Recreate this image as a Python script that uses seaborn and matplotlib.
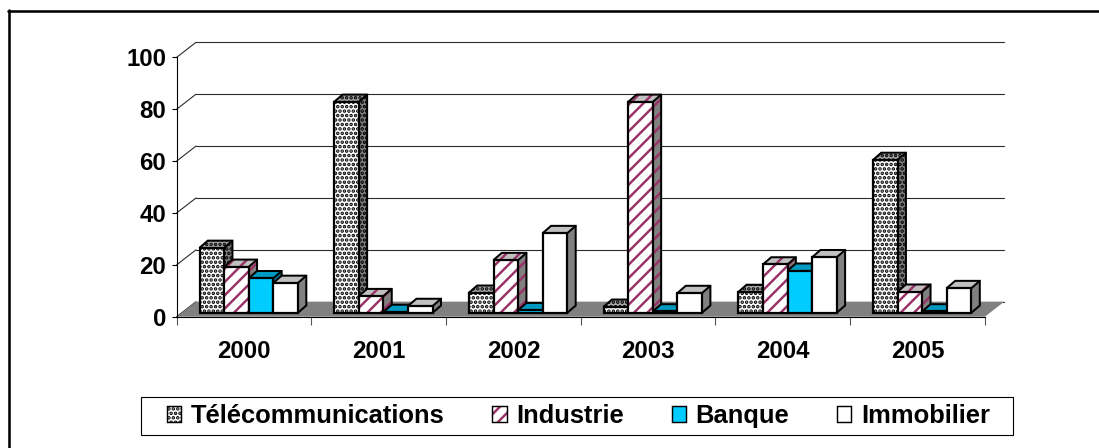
import matplotlib
matplotlib.use("Agg")
import matplotlib.pyplot as plt
from matplotlib.colors import to_rgba
from matplotlib.lines import Line2D
from matplotlib.patches import Polygon, Rectangle
import pandas as pd
import seaborn as sns

years = ["2000", "2001", "2002", "2003", "2004", "2005"]
sectors = ["Télécommunications", "Industrie", "Banque", "Immobilier"]
telecom = [25, 81.3, 7.7, 2.3, 8, 58.9]
industrie = [17.7, 6.4, 20.3, 81.3, 18.6, 8.1]
banque = [13.3, 0.3, 1, 0.5, 16.2, 0.5]
immobilier = [11.5, 2.6, 30.7, 7.6, 21.4, 9.5]
yticks = [0, 20, 40, 60, 80, 100]

# pixel sizes of the picture
W, H = 1099, 448
DPI = 80
LEFT, RIGHT, BOTTOM, TOP = 176.7, 984.9, 316.7, 57.3
PX_X = 6 / (RIGHT - LEFT)
PX_Y = 100 / (BOTTOM - TOP)

sns.set_theme(style="white")
plt.rcParams["font.family"] = ["Liberation Sans", "DejaVu Sans"]
plt.rcParams["font.weight"] = "bold"
plt.rcParams["hatch.linewidth"] = 2.2

fronts = ["white", "white", "#00ccff", "white"]
hatches = ["...", "//", None, None]
hatch_cols = ["black", "#993366", "#00ccff", "white"]
tops = ["#a6a6a6", "#c0c0c0", "#0099bf", "#c0c0c0"]
sides = ["#808080", "#808080", "#007a99", "#808080"]

rows = []
for name, values in zip(sectors, [telecom, industrie, banque, immobilier]):
    for year, value in zip(years, values):
        rows.append({"annee": year, "secteur": name, "part": value})
df = pd.DataFrame(rows)

fig = plt.figure(figsize=(W / DPI, H / DPI), dpi=DPI, facecolor="white")
ax = fig.add_axes([LEFT / W, 1 - BOTTOM / H, (RIGHT - LEFT) / W, (BOTTOM - TOP) / H])

sns.barplot(data=df, x="annee", y="part", hue="secteur", palette=fronts, saturation=1,
            width=98.5 / 134.7, gap=0, legend=False, ax=ax)
ax.set_xlim(-0.5, 5.5)
ax.set_ylim(0, 100)
ax.set_xlabel("")
ax.set_ylabel("")

# back wall, left wall and floor
wall_dx, wall_dy = 19.3 * PX_X, 15 * PX_Y
for tick in yticks:
    ax.plot([-0.5 + wall_dx, 5.5 + wall_dx], [tick + wall_dy, tick + wall_dy], color="#2b2b2b",
            lw=1, clip_on=False, zorder=0.5)
    ax.plot([-0.5, -0.5 + wall_dx], [tick, tick + wall_dy], color="#2b2b2b",
            lw=1, clip_on=False, zorder=0.5)
ax.add_patch(Polygon([(-0.5, 0), (5.5, 0), (5.5 + wall_dx, wall_dy), (-0.5 + wall_dx, wall_dy)],
                     facecolor="#808080", edgecolor="none", clip_on=False, zorder=1))

# move the bars on to the floor and give them a top and a side
shift_x, shift_y = 4.7 * PX_X, 4 * PX_Y
depth_x, depth_y = 8.3 * PX_X, 7.2 * PX_Y
for h, container in enumerate(ax.containers):
    for c, bar in enumerate(container):
        x0 = bar.get_x() + shift_x
        w = bar.get_width()
        y0 = shift_y
        y1 = shift_y + bar.get_height()
        z = 3 + c + h * 0.1
        bar.set_x(x0)
        bar.set_y(y0)
        bar.set_clip_on(False)
        bar.set_linewidth(0)
        bar.set_edgecolor(hatch_cols[h])
        bar.set_hatch(hatches[h])
        bar.set_zorder(z + 0.02)
        top = Polygon([(x0, y1), (x0 + w, y1), (x0 + w + depth_x, y1 + depth_y), (x0 + depth_x, y1 + depth_y)],
                      facecolor=tops[h], edgecolor=hatch_cols[h] if hatches[h] else tops[h],
                      hatch=hatches[h], lw=0, clip_on=False, zorder=z)
        side = Polygon([(x0 + w, y0), (x0 + w + depth_x, y0 + depth_y), (x0 + w + depth_x, y1 + depth_y), (x0 + w, y1)],
                       facecolor=sides[h], edgecolor=hatch_cols[h] if hatches[h] else sides[h],
                       hatch=hatches[h], lw=0, clip_on=False, zorder=z)
        ax.add_patch(top)
        ax.add_patch(side)
        # outlines apart, the hatch takes the edge colour of its patch
        ax.add_patch(Rectangle((x0, y0), w, y1 - y0, fill=False, edgecolor="black", lw=2,
                               clip_on=False, zorder=z + 0.03))
        ax.add_patch(Polygon([(x0, y1), (x0 + depth_x, y1 + depth_y), (x0 + w + depth_x, y1 + depth_y),
                              (x0 + w + depth_x, y0 + depth_y), (x0 + w, y0)], closed=False, fill=False,
                             edgecolor="black", lw=1.8, clip_on=False, zorder=z + 0.01))
        ax.add_patch(Polygon([(x0 + w, y1), (x0 + w + depth_x, y1 + depth_y)], closed=False, fill=False,
                             edgecolor="black", lw=1.8, clip_on=False, zorder=z + 0.01))

sns.despine(ax=ax, top=True, right=True)
for side_name in ["left", "bottom"]:
    ax.spines[side_name].set_linewidth(1)
    ax.spines[side_name].set_color("black")
    ax.spines[side_name].set_zorder(2)

ax.set_yticks(yticks)
ax.set_xticks([i - 0.5 for i in range(7)], [""] * 7)
ax.set_xticks(range(6), years, minor=True)
ax.tick_params(axis="y", which="major", left=True, length=4.5, width=1, color="black",
               labelsize=21.6, labelcolor="black", pad=5)
ax.tick_params(axis="x", which="major", bottom=True, length=7, width=1, color="#555555")
ax.tick_params(axis="x", which="minor", bottom=False, labelsize=21.6, labelcolor="black", pad=17)

# legend, its box is drawn apart because the padding differs in x and y
handles = []
for h, name in enumerate(sectors):
    handles.append(Rectangle((0, 0), 1, 1, facecolor=fronts[h], edgecolor=hatch_cols[h], hatch=hatches[h], lw=0))
leg = ax.legend(handles, sectors, loc="center", bbox_to_anchor=(578.5 / W, 1 - 416 / H),
                bbox_transform=fig.transFigure, ncol=4, fontsize=23, frameon=False, labelcolor="black",
                borderpad=0, borderaxespad=0, handlelength=0.55, handleheight=0.6,
                handletextpad=0.38, columnspacing=1.87)
leg.set_zorder(20)
for handle, col in zip(leg.legend_handles, hatch_cols):
    handle.set_edgecolor("black")
    handle.set_linewidth(1.3)
    handle._hatch_color = to_rgba(col)
fig.add_artist(Rectangle((141 / W, 1 - 435 / H), (1012.7 - 141) / W, 38 / H, fill=False, edgecolor="black",
                         lw=1, transform=fig.transFigure))

# only the top and left edges of the chart frame fall inside the picture
fig.add_artist(Line2D([8.5 / W, 8.5 / W], [0, 1 - 9.5 / H], color="black", lw=2.3, transform=fig.transFigure))
fig.add_artist(Line2D([7.5 / W, 1], [1 - 10.5 / H, 1 - 10.5 / H], color="black", lw=2.3, transform=fig.transFigure))

fig.savefig("out.png", dpi=DPI)
